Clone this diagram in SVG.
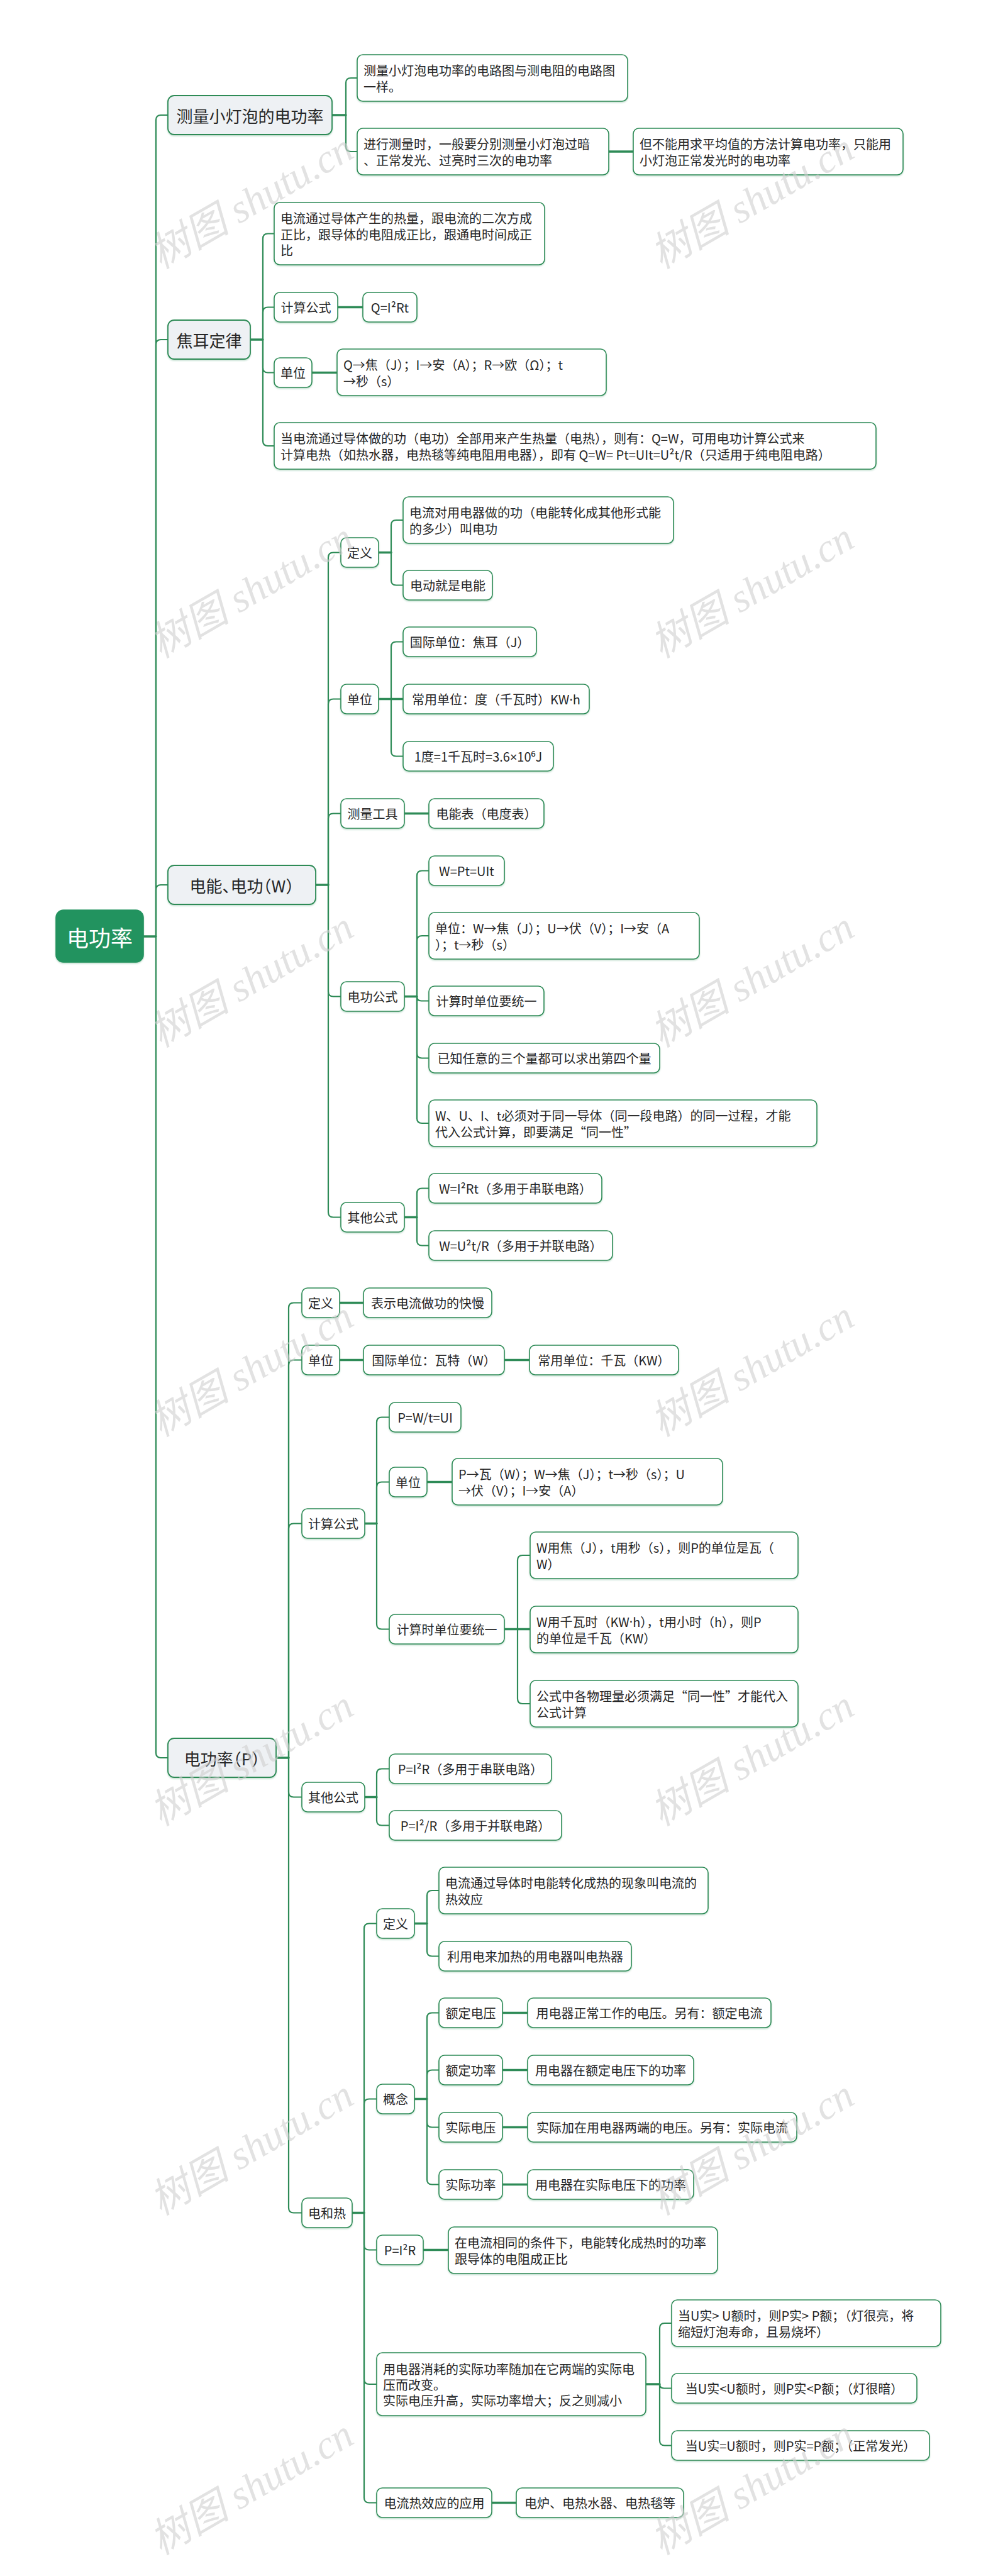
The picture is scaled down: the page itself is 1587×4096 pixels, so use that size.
<svg xmlns="http://www.w3.org/2000/svg" width="1587" height="4096" viewBox="0 0 1587 4096">
<defs>
<filter id="sh" x="-5%" y="-10%" width="110%" height="130%"><feDropShadow dx="0" dy="1.5" stdDeviation="1.2" flood-color="#2e8b57" flood-opacity="0.3"/></filter>
</defs>
<style>
.n rect{fill:#fff;stroke:#2e8b57;stroke-width:1.6;filter:url(#sh)}
.l1 rect{fill:#eef1f4;stroke-width:1.8}
.rt rect{fill:#24935f;stroke:#24935f}
text{font-family:"Noto Sans CJK SC","Noto Sans",sans-serif;font-size:20px;fill:#262626;dominant-baseline:central}
.m{text-anchor:middle}
.l1 text{font-size:26px}
.rt text{font-size:35px;fill:#fff}
.h{font-feature-settings:"halt"}
.lt{font-family:"Noto Sans",sans-serif}
.cn path{fill:none;stroke:#2e8b57;stroke-width:2.2;stroke-linecap:round}
.cn path.s{stroke-width:3.4}
.wm text{font-family:"Liberation Serif","Noto Sans CJK SC",serif;font-style:italic;font-size:64px;fill:#cfcfcf;opacity:.6;text-anchor:middle}
</style>
<rect width="1587" height="4096" fill="#fff"/>
<g id="connectors" class="cn">
<path class="s" d="M228 1489 H248"/>
<path d="M248 1489 V191 Q248 183 256 183 H267"/>
<path d="M248 1489 V548 Q248 540 256 540 H267"/>
<path d="M248 1489 V1415 Q248 1407 256 1407 H267"/>
<path d="M248 1489 V2787 Q248 2795 256 2795 H267"/>
<path class="s" d="M528 183 H550"/>
<path d="M550 183 V132 Q550 124 558 124 H568"/>
<path d="M550 183 V233 Q550 241 558 241 H568"/>
<path class="s" d="M968 241 H1007"/>
<path class="s" d="M398 540 H418"/>
<path d="M418 540 V379.5 Q418 371.5 426 371.5 H436"/>
<path d="M418 540 V496.5 Q418 488.5 426 488.5 H436"/>
<path d="M418 540 V584.5 Q418 592.5 426 592.5 H436"/>
<path d="M418 540 V701 Q418 709 426 709 H436"/>
<path class="s" d="M537 488.5 H577"/>
<path class="s" d="M496 592.5 H536"/>
<path class="s" d="M502 1407 H522"/>
<path d="M522 1407 V886.5 Q522 878.5 530 878.5 H542"/>
<path d="M522 1407 V1119.5 Q522 1111.5 530 1111.5 H542"/>
<path d="M522 1407 V1301.5 Q522 1293.5 530 1293.5 H542"/>
<path d="M522 1407 V1576.5 Q522 1584.5 530 1584.5 H542"/>
<path d="M522 1407 V1927.5 Q522 1935.5 530 1935.5 H542"/>
<path class="s" d="M602 878.5 H622"/>
<path d="M622 878.5 V835 Q622 827 630 827 H641"/>
<path d="M622 878.5 V922.5 Q622 930.5 630 930.5 H641"/>
<path class="s" d="M602 1111.5 H641"/>
<path d="M622 1111.5 V1028.5 Q622 1020.5 630 1020.5 H641"/>
<path d="M622 1111.5 V1194.5 Q622 1202.5 630 1202.5 H641"/>
<path class="s" d="M643 1293.5 H682"/>
<path class="s" d="M643 1584.5 H663"/>
<path d="M663 1584.5 V1392.5 Q663 1384.5 671 1384.5 H682"/>
<path d="M663 1584.5 V1496 Q663 1488 671 1488 H682"/>
<path d="M663 1584.5 Q663 1591.5 670 1591.5 H682"/>
<path d="M663 1584.5 V1674.5 Q663 1682.5 671 1682.5 H682"/>
<path d="M663 1584.5 V1778 Q663 1786 671 1786 H682"/>
<path class="s" d="M643 1935.5 H663"/>
<path d="M663 1935.5 V1897.5 Q663 1889.5 671 1889.5 H682"/>
<path d="M663 1935.5 V1972.5 Q663 1980.5 671 1980.5 H682"/>
<path class="s" d="M439 2795 H459"/>
<path d="M459 2795 V2079.5 Q459 2071.5 467 2071.5 H480"/>
<path d="M459 2795 V2170.5 Q459 2162.5 467 2162.5 H480"/>
<path d="M459 2795 V2430.5 Q459 2422.5 467 2422.5 H480"/>
<path d="M459 2795 V2849.5 Q459 2857.5 467 2857.5 H480"/>
<path d="M459 2795 V3510.5 Q459 3518.5 467 3518.5 H480"/>
<path class="s" d="M540 2071.5 H578"/>
<path class="s" d="M540 2162.5 H578"/>
<path class="s" d="M802 2162.5 H842"/>
<path class="s" d="M580 2422.5 H599"/>
<path d="M599 2422.5 V2261.5 Q599 2253.5 607 2253.5 H619"/>
<path d="M599 2422.5 V2364.5 Q599 2356.5 607 2356.5 H619"/>
<path d="M599 2422.5 V2582.5 Q599 2590.5 607 2590.5 H619"/>
<path class="s" d="M679 2356.5 H719"/>
<path class="s" d="M802 2590.5 H843"/>
<path d="M823 2590.5 V2481 Q823 2473 831 2473 H843"/>
<path d="M823 2590.5 V2701 Q823 2709 831 2709 H843"/>
<path class="s" d="M580 2857.5 H599"/>
<path d="M599 2857.5 V2820.5 Q599 2812.5 607 2812.5 H619"/>
<path d="M599 2857.5 V2894.5 Q599 2902.5 607 2902.5 H619"/>
<path class="s" d="M560 3518.5 H579"/>
<path d="M579 3518.5 V3066.5 Q579 3058.5 587 3058.5 H599"/>
<path d="M579 3518.5 V3345.5 Q579 3337.5 587 3337.5 H599"/>
<path d="M579 3518.5 V3569.5 Q579 3577.5 587 3577.5 H599"/>
<path d="M579 3518.5 V3783 Q579 3791 587 3791 H599"/>
<path d="M579 3518.5 V3971.5 Q579 3979.5 587 3979.5 H599"/>
<path class="s" d="M659 3058.5 H679"/>
<path d="M679 3058.5 V3014 Q679 3006 687 3006 H698"/>
<path d="M679 3058.5 V3102.5 Q679 3110.5 687 3110.5 H698"/>
<path class="s" d="M659 3337.5 H679"/>
<path d="M679 3337.5 V3208.5 Q679 3200.5 687 3200.5 H698"/>
<path d="M679 3337.5 V3299.5 Q679 3291.5 687 3291.5 H698"/>
<path d="M679 3337.5 V3374.5 Q679 3382.5 687 3382.5 H698"/>
<path d="M679 3337.5 V3465.5 Q679 3473.5 687 3473.5 H698"/>
<path class="s" d="M799 3200.5 H839"/>
<path class="s" d="M799 3291.5 H839"/>
<path class="s" d="M799 3382.5 H839"/>
<path class="s" d="M799 3473.5 H839"/>
<path class="s" d="M673 3577.5 H713"/>
<path class="s" d="M1027 3791 H1049"/>
<path d="M1049 3791 V3702 Q1049 3694 1057 3694 H1068"/>
<path d="M1049 3791 Q1049 3797.5 1056 3797.5 H1068"/>
<path d="M1049 3791 V3880.5 Q1049 3888.5 1057 3888.5 H1068"/>
<path class="s" d="M782 3979.5 H821"/>
</g>

<g id="n-root" class="n rt"><rect x="89" y="1447" width="139" height="83" rx="12"/><text class="m" x="158.5" y="1489">电功率</text></g>

<g id="n-a" class="n l1"><rect x="267" y="152" width="261" height="62" rx="10"/><text class="m" x="397.5" y="183">测量小灯泡的电功率</text></g>
<g id="n-a1" class="n"><rect x="568" y="87" width="430" height="74" rx="9"/><text x="578"><tspan x="578" y="111.3">测量小灯泡电功率的电路图与测电阻的电路图</tspan><tspan x="578" y="136.7">一样。</tspan></text></g>
<g id="n-a2" class="n"><rect x="568" y="204" width="400" height="74" rx="9"/><text><tspan x="578" y="228.3">进行测量时，一般要分别测量小灯泡过暗</tspan><tspan x="578" y="253.7">、正常发光、过亮时三次的电功率</tspan></text></g>
<g id="n-a2a" class="n"><rect x="1007" y="204" width="429" height="74" rx="9"/><text><tspan x="1017" y="228.3">但不能用求平均值的方法计算电功率，只能用</tspan><tspan x="1017" y="253.7">小灯泡正常发光时的电功率</tspan></text></g>

<g id="n-b" class="n l1"><rect x="267" y="509" width="131" height="62" rx="10"/><text class="m" x="332.5" y="540">焦耳定律</text></g>
<g id="n-b1" class="n"><rect x="436" y="322" width="430" height="99" rx="9"/><text><tspan x="446" y="346.1">电流通过导体产生的热量，跟电流的二次方成</tspan><tspan x="446" y="371.5">正比，跟导体的电阻成正比，跟通电时间成正</tspan><tspan x="446" y="396.9">比</tspan></text></g>
<g id="n-b2" class="n"><rect x="436" y="465" width="101" height="47" rx="9"/><text class="m" x="486.5" y="488.5">计算公式</text></g>
<g id="n-b2a" class="n"><rect x="577" y="465" width="86" height="47" rx="9"/><text class="m" x="620" y="488.5">Q=I²Rt</text></g>
<g id="n-b3" class="n"><rect x="436" y="569" width="60" height="47" rx="9"/><text class="m" x="466" y="592.5">单位</text></g>
<g id="n-b3a" class="n"><rect x="536" y="555" width="428" height="74" rx="9"/><text><tspan x="546" y="579.3">Q→焦（J）；I→安（A）；R→欧（Ω）；t</tspan><tspan x="546" y="604.7">→秒（s）</tspan></text></g>
<g id="n-b4" class="n"><rect x="436" y="672" width="957" height="74" rx="9"/><text><tspan x="446" y="696.3">当电流通过导体做的功（电功）全部用来产生热量（电热），则有：Q=W，可用电功计算公式来</tspan><tspan x="446" y="721.7">计算电热（如热水器，电热毯等纯电阻用电器），即有 Q=W= Pt=UIt=U²t/R（只适用于纯电阻电路）</tspan></text></g>

<g id="n-c" class="n l1"><rect x="267" y="1376" width="235" height="62" rx="10"/><text class="m h" x="384.5" y="1407">电能、电功（W）</text></g>
<g id="n-c1" class="n"><rect x="542" y="855" width="60" height="47" rx="9"/><text class="m" x="572" y="878.5">定义</text></g>
<g id="n-c1a" class="n"><rect x="641" y="790" width="430" height="74" rx="9"/><text><tspan x="651" y="814.3">电流对用电器做的功（电能转化成其他形式能</tspan><tspan x="651" y="839.7">的多少）叫电功</tspan></text></g>
<g id="n-c1b" class="n"><rect x="641" y="907" width="142" height="47" rx="9"/><text class="m" x="712" y="930.5">电动就是电能</text></g>
<g id="n-c2" class="n"><rect x="542" y="1088" width="60" height="47" rx="9"/><text class="m" x="572" y="1111.5">单位</text></g>
<g id="n-c2a" class="n"><rect x="641" y="997" width="212" height="47" rx="9"/><text class="m" x="747" y="1020.5">国际单位：焦耳（J）</text></g>
<g id="n-c2b" class="n"><rect x="641" y="1088" width="296" height="47" rx="9"/><text class="m" x="789" y="1111.5">常用单位：度（千瓦时）KW<tspan class="lt">·</tspan>h</text></g>
<g id="n-c2c" class="n"><rect x="641" y="1179" width="239" height="47" rx="9"/><text class="m" x="760.5" y="1202.5">1度=1千瓦时=3.6<tspan class="lt">×</tspan>10⁶J</text></g>
<g id="n-c3" class="n"><rect x="542" y="1270" width="101" height="47" rx="9"/><text class="m" x="592.5" y="1293.5">测量工具</text></g>
<g id="n-c3a" class="n"><rect x="682" y="1270" width="183" height="47" rx="9"/><text class="m" x="773.5" y="1293.5">电能表（电度表）</text></g>
<g id="n-c4" class="n"><rect x="542" y="1561" width="101" height="47" rx="9"/><text class="m" x="592.5" y="1584.5">电功公式</text></g>
<g id="n-c4a" class="n"><rect x="682" y="1361" width="120" height="47" rx="9"/><text class="m" x="742" y="1384.5">W=Pt=UIt</text></g>
<g id="n-c4b" class="n"><rect x="682" y="1451" width="430" height="74" rx="9"/><text><tspan x="692" y="1475.3">单位：W→焦（J）；U→伏（V）；I→安（A</tspan><tspan x="692" y="1500.7">）；t→秒（s）</tspan></text></g>
<g id="n-c4c" class="n"><rect x="682" y="1568" width="183" height="47" rx="9"/><text class="m" x="773.5" y="1591.5">计算时单位要统一</text></g>
<g id="n-c4d" class="n"><rect x="682" y="1659" width="367" height="47" rx="9"/><text class="m" x="865.5" y="1682.5">已知任意的三个量都可以求出第四个量</text></g>
<g id="n-c4e" class="n"><rect x="682" y="1749" width="617" height="74" rx="9"/><text><tspan x="692" y="1773.3">W、U、I、t必须对于同一导体（同一段电路）的同一过程，才能</tspan><tspan x="692" y="1798.7">代入公式计算，即要满足“同一性”</tspan></text></g>
<g id="n-c5" class="n"><rect x="542" y="1912" width="101" height="47" rx="9"/><text class="m" x="592.5" y="1935.5">其他公式</text></g>
<g id="n-c5a" class="n"><rect x="682" y="1866" width="275" height="47" rx="9"/><text class="m" x="819.5" y="1889.5">W=I²Rt（多用于串联电路）</text></g>
<g id="n-c5b" class="n"><rect x="682" y="1957" width="292" height="47" rx="9"/><text class="m" x="828" y="1980.5">W=U²t/R（多用于并联电路）</text></g>

<g id="n-d" class="n l1"><rect x="267" y="2764" width="172" height="62" rx="10"/><text class="m h" x="353" y="2795">电功率（P）</text></g>
<g id="n-d1" class="n"><rect x="480" y="2048" width="60" height="47" rx="9"/><text class="m" x="510" y="2071.5">定义</text></g>
<g id="n-d1a" class="n"><rect x="578" y="2048" width="204" height="47" rx="9"/><text class="m" x="680" y="2071.5">表示电流做功的快慢</text></g>
<g id="n-d2" class="n"><rect x="480" y="2139" width="60" height="47" rx="9"/><text class="m" x="510" y="2162.5">单位</text></g>
<g id="n-d2a" class="n"><rect x="578" y="2139" width="224" height="47" rx="9"/><text class="m" x="690" y="2162.5">国际单位：瓦特（W）</text></g>
<g id="n-d2b" class="n"><rect x="842" y="2139" width="237" height="47" rx="9"/><text class="m" x="960.5" y="2162.5">常用单位：千瓦（KW）</text></g>
<g id="n-d3" class="n"><rect x="480" y="2399" width="100" height="47" rx="9"/><text class="m" x="530" y="2422.5">计算公式</text></g>
<g id="n-d3a" class="n"><rect x="619" y="2230" width="114" height="47" rx="9"/><text class="m" x="676" y="2253.5">P=W/t=UI</text></g>
<g id="n-d3b" class="n"><rect x="619" y="2333" width="60" height="47" rx="9"/><text class="m" x="649" y="2356.5">单位</text></g>
<g id="n-d3b1" class="n"><rect x="719" y="2319" width="430" height="74" rx="9"/><text><tspan x="729" y="2343.3">P→瓦（W）；W→焦（J）；t→秒（s）；U</tspan><tspan x="729" y="2368.7">→伏（V）；I→安（A）</tspan></text></g>
<g id="n-d3c" class="n"><rect x="619" y="2567" width="183" height="47" rx="9"/><text class="m" x="710.5" y="2590.5">计算时单位要统一</text></g>
<g id="n-d3c1" class="n"><rect x="843" y="2436" width="426" height="74" rx="9"/><text><tspan x="853" y="2460.3">W用焦（J），t用秒（s），则P的单位是瓦（</tspan><tspan x="853" y="2485.7">W）</tspan></text></g>
<g id="n-d3c2" class="n"><rect x="843" y="2554" width="426" height="74" rx="9"/><text><tspan x="853" y="2578.3">W用千瓦时（KW<tspan class="lt">·</tspan>h），t用小时（h），则P</tspan><tspan x="853" y="2603.7">的单位是千瓦（KW）</tspan></text></g>
<g id="n-d3c3" class="n"><rect x="843" y="2672" width="426" height="74" rx="9"/><text><tspan x="853" y="2696.3">公式中各物理量必须满足“同一性”才能代入</tspan><tspan x="853" y="2721.7">公式计算</tspan></text></g>
<g id="n-d4" class="n"><rect x="480" y="2834" width="100" height="47" rx="9"/><text class="m" x="530" y="2857.5">其他公式</text></g>
<g id="n-d4a" class="n"><rect x="619" y="2789" width="258" height="47" rx="9"/><text class="m" x="748" y="2812.5">P=I²R（多用于串联电路）</text></g>
<g id="n-d4b" class="n"><rect x="619" y="2879" width="274" height="47" rx="9"/><text class="m" x="756" y="2902.5">P=I²/R（多用于并联电路）</text></g>
<g id="n-d5" class="n"><rect x="480" y="3495" width="80" height="47" rx="9"/><text class="m" x="520" y="3518.5">电和热</text></g>
<g id="n-d5a" class="n"><rect x="599" y="3035" width="60" height="47" rx="9"/><text class="m" x="629" y="3058.5">定义</text></g>
<g id="n-d5a1" class="n"><rect x="698" y="2969" width="428" height="74" rx="9"/><text><tspan x="708" y="2993.3">电流通过导体时电能转化成热的现象叫电流的</tspan><tspan x="708" y="3018.7">热效应</tspan></text></g>
<g id="n-d5a2" class="n"><rect x="698" y="3087" width="306" height="47" rx="9"/><text class="m" x="851" y="3110.5">利用电来加热的用电器叫电热器</text></g>
<g id="n-d5b" class="n"><rect x="599" y="3314" width="60" height="47" rx="9"/><text class="m" x="629" y="3337.5">概念</text></g>
<g id="n-d5b1" class="n"><rect x="698" y="3177" width="101" height="47" rx="9"/><text class="m" x="748.5" y="3200.5">额定电压</text></g>
<g id="n-d5b1a" class="n"><rect x="839" y="3177" width="387" height="47" rx="9"/><text class="m" x="1032.5" y="3200.5">用电器正常工作的电压。另有：额定电流</text></g>
<g id="n-d5b2" class="n"><rect x="698" y="3268" width="101" height="47" rx="9"/><text class="m" x="748.5" y="3291.5">额定功率</text></g>
<g id="n-d5b2a" class="n"><rect x="839" y="3268" width="264" height="47" rx="9"/><text class="m" x="971" y="3291.5">用电器在额定电压下的功率</text></g>
<g id="n-d5b3" class="n"><rect x="698" y="3359" width="101" height="47" rx="9"/><text class="m" x="748.5" y="3382.5">实际电压</text></g>
<g id="n-d5b3a" class="n"><rect x="839" y="3359" width="428" height="47" rx="9"/><text class="m" x="1053" y="3382.5">实际加在用电器两端的电压。另有：实际电流</text></g>
<g id="n-d5b4" class="n"><rect x="698" y="3450" width="101" height="47" rx="9"/><text class="m" x="748.5" y="3473.5">实际功率</text></g>
<g id="n-d5b4a" class="n"><rect x="839" y="3450" width="264" height="47" rx="9"/><text class="m" x="971" y="3473.5">用电器在实际电压下的功率</text></g>
<g id="n-d5c" class="n"><rect x="599" y="3554" width="74" height="47" rx="9"/><text class="m" x="636" y="3577.5">P=I²R</text></g>
<g id="n-d5c1" class="n"><rect x="713" y="3541" width="428" height="74" rx="9"/><text><tspan x="723" y="3565.3">在电流相同的条件下，电能转化成热时的功率</tspan><tspan x="723" y="3590.7">跟导体的电阻成正比</tspan></text></g>
<g id="n-d5d" class="n"><rect x="599" y="3741" width="428" height="100" rx="9"/><text><tspan x="609" y="3765.6">用电器消耗的实际功率随加在它两端的实际电</tspan><tspan x="609" y="3791">压而改变。</tspan><tspan x="609" y="3816.4">实际电压升高，实际功率增大；反之则减小</tspan></text></g>
<g id="n-d5d1" class="n"><rect x="1068" y="3657" width="428" height="74" rx="9"/><text><tspan x="1078" y="3681.3">当U实&gt; U额时，则P实&gt; P额；（灯很亮，将</tspan><tspan x="1078" y="3706.7">缩短灯泡寿命，且易烧坏）</tspan></text></g>
<g id="n-d5d2" class="n"><rect x="1068" y="3774" width="390" height="47" rx="9"/><text class="m" x="1263" y="3797.5">当U实&lt;U额时，则P实&lt;P额；（灯很暗）</text></g>
<g id="n-d5d3" class="n"><rect x="1068" y="3865" width="410" height="47" rx="9"/><text class="m" x="1273" y="3888.5">当U实=U额时，则P实=P额；（正常发光）</text></g>
<g id="n-d5e" class="n"><rect x="599" y="3956" width="183" height="47" rx="9"/><text class="m" x="690.5" y="3979.5">电流热效应的应用</text></g>
<g id="n-d5e1" class="n"><rect x="821" y="3956" width="266" height="47" rx="9"/><text class="m" x="954" y="3979.5">电炉、电热水器、电热毯等</text></g>

<g id="watermarks" class="wm">
<text x="400" y="320" transform="rotate(-30 400 320)">树图 shutu.cn</text>
<text x="1196" y="320" transform="rotate(-30 1196 320)">树图 shutu.cn</text>
<text x="400" y="939" transform="rotate(-30 400 939)">树图 shutu.cn</text>
<text x="1196" y="939" transform="rotate(-30 1196 939)">树图 shutu.cn</text>
<text x="400" y="1558" transform="rotate(-30 400 1558)">树图 shutu.cn</text>
<text x="1196" y="1558" transform="rotate(-30 1196 1558)">树图 shutu.cn</text>
<text x="400" y="2177" transform="rotate(-30 400 2177)">树图 shutu.cn</text>
<text x="1196" y="2177" transform="rotate(-30 1196 2177)">树图 shutu.cn</text>
<text x="400" y="2796" transform="rotate(-30 400 2796)">树图 shutu.cn</text>
<text x="1196" y="2796" transform="rotate(-30 1196 2796)">树图 shutu.cn</text>
<text x="400" y="3415" transform="rotate(-30 400 3415)">树图 shutu.cn</text>
<text x="1196" y="3415" transform="rotate(-30 1196 3415)">树图 shutu.cn</text>
<text x="400" y="3955" transform="rotate(-30 400 3955)">树图 shutu.cn</text>
<text x="1196" y="3955" transform="rotate(-30 1196 3955)">树图 shutu.cn</text>
</g>
</svg>
